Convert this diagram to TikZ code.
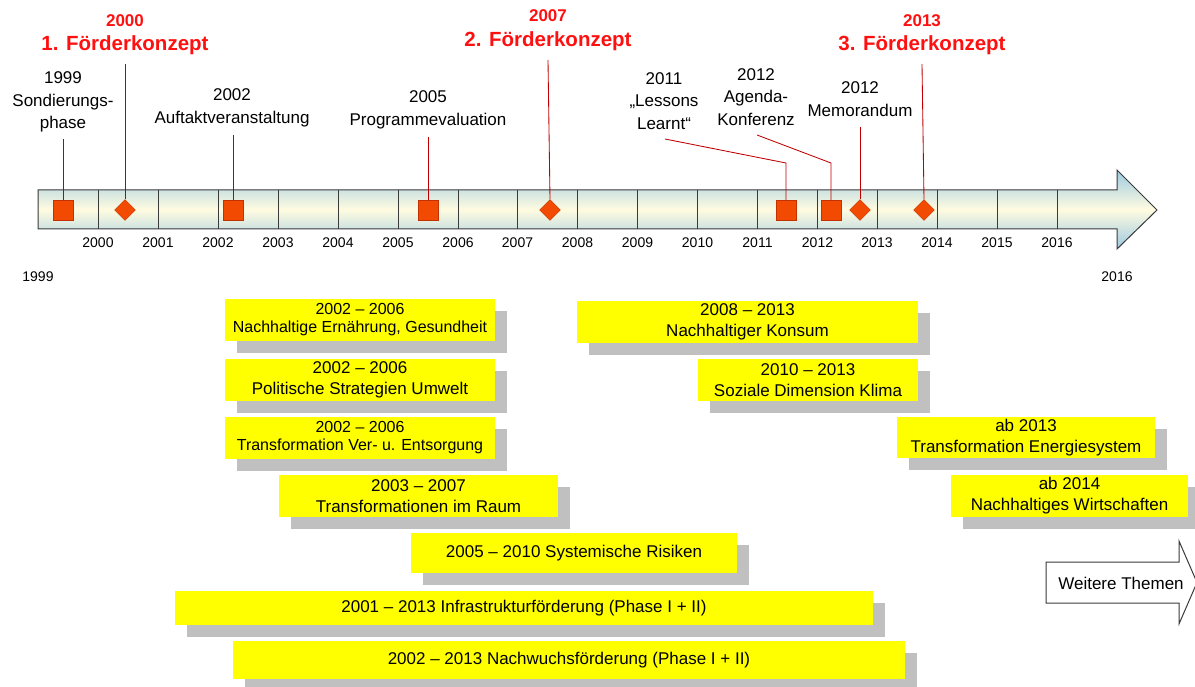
\documentclass[tikz,border=0pt]{standalone}
\usepackage{fontspec}
\setmainfont{Liberation Sans}
\usepackage{xcolor}
\usepackage{tikz}
\usetikzlibrary{shapes.geometric}
\usetikzlibrary{shadows}
\usetikzlibrary{positioning, calc}

\definecolor{markred}{HTML}{F24A00}
\definecolor{markedge}{HTML}{C23200}
\definecolor{leaderred}{HTML}{C00000}
\definecolor{konzeptred}{HTML}{FF1010}
\definecolor{barblue}{HTML}{9CCAE2}
\definecolor{barcream}{HTML}{FFFBE0}
\definecolor{themeyellow}{HTML}{FFFF00}
\definecolor{shadowgray}{HTML}{C0C0C0}
\definecolor{axisgray}{HTML}{3A3A3A}

\begin{document}
\begin{tikzpicture}[x=1pt, y=-1pt,
    eventsq/.style={rectangle, draw=markedge, fill=markred, minimum size=20pt, inner sep=0pt},
    konzeptdia/.style={diamond, draw=markedge, fill=markred, minimum size=21pt, inner sep=0pt},
    leader/.style={draw=leaderred, line width=0.85pt},
    event/.style={align=center, inner sep=0pt, font=\fontsize{17}{22.5}\selectfont},
    konzept/.style={text=konzeptred, inner sep=0pt, font=\bfseries\fontsize{20.5}{24}\selectfont},
    konzeptyear/.style={text=konzeptred, inner sep=0pt, font=\bfseries\fontsize{17}{20}\selectfont},
    yearlbl/.style={inner sep=0pt, font=\fontsize{14}{16}\selectfont},
    yearline/.style={draw=axisgray, line width=1pt},
    theme/.style={fill=themeyellow, align=center, inner sep=0pt, font=\fontsize{17}{21}\selectfont,
        general shadow={fill=shadowgray, shadow xshift=12pt, shadow yshift=-12pt}},
    themesmall/.style={font=\fontsize{16}{18}\selectfont}]
    \useasboundingbox (0,0) rectangle (1195,687);

    % timeline arrow
    \shadedraw[draw=axisgray, line width=1pt, top color=barblue, bottom color=barblue, middle color=barcream]
        (38,190) -- (1117,190) -- (1117,170) -- (1157,210) -- (1117,249) -- (1117,229) -- (38,229) -- cycle;

    \draw[yearline] (98,190) -- (98,229) node[yearlbl] (y00) at (98,243) {2000};
    \draw[yearline] (158,190) -- (158,229) node[yearlbl] (y01) at (158,243) {2001};
    \draw[yearline] (218,190) -- (218,229) node[yearlbl] (y02) at (218,243) {2002};
    \draw[yearline] (278,190) -- (278,229) node[yearlbl] (y03) at (278,243) {2003};
    \draw[yearline] (338,190) -- (338,229) node[yearlbl] (y04) at (338,243) {2004};
    \draw[yearline] (398,190) -- (398,229) node[yearlbl] (y05) at (398,243) {2005};
    \draw[yearline] (458,190) -- (458,229) node[yearlbl] (y06) at (458,243) {2006};
    \draw[yearline] (517.5,190) -- (517.5,229) node[yearlbl] (y07) at (517.5,243) {2007};
    \draw[yearline] (577.5,190) -- (577.5,229) node[yearlbl] (y08) at (577.5,243) {2008};
    \draw[yearline] (637.5,190) -- (637.5,229) node[yearlbl] (y09) at (637.5,243) {2009};
    \draw[yearline] (697.5,190) -- (697.5,229) node[yearlbl] (y10) at (697.5,243) {2010};
    \draw[yearline] (757.5,190) -- (757.5,229) node[yearlbl] (y11) at (757.5,243) {2011};
    \draw[yearline] (817.5,190) -- (817.5,229) node[yearlbl] (y12) at (817.5,243) {2012};
    \draw[yearline] (877,190) -- (877,229) node[yearlbl] (y13) at (877,243) {2013};
    \draw[yearline] (937,190) -- (937,229) node[yearlbl] (y14) at (937,243) {2014};
    \draw[yearline] (997,190) -- (997,229) node[yearlbl] (y15) at (997,243) {2015};
    \draw[yearline] (1057,190) -- (1057,229) node[yearlbl] (y16) at (1057,243) {2016};

    \node[yearlbl] (start) at (38,277) {1999};
    \node[yearlbl] (end) at (1117,277) {2016};

    % markers on the timeline
    \node[eventsq] (m99) at (63,210) {};
    \node[konzeptdia] (d00) at (125,210) {};
    \node[eventsq] (m02) at (233,210) {};
    \node[eventsq] (m05) at (428,210) {};
    \node[konzeptdia] (d07) at (550,210) {};
    \node[eventsq] (m11) at (786,210) {};
    \node[eventsq] (m12) at (831,210) {};
    \node[konzeptdia] (d12) at (860,210) {};
    \node[konzeptdia] (d13) at (924,210) {};

    % event labels
    \node[event] (sondierung) at (63,102) {1999\\Sondierungs-\\phase};
    \node[event] (auftakt) at (232,108) {2002\\Auftaktveranstaltung};
    \node[event] (evaluation) at (428,110) {2005\\Programmevaluation};
    \node[event] (lessons) at (664,101) {2011\\„Lessons\\Learnt“};
    \node[event] (agenda) at (756,97) {2012\\Agenda-\\Konferenz};
    \node[event] (memorandum) at (860,99) {2012\\Memorandum};

    \node[konzeptyear] (fk1year) at (125,21) {2000};
    \node[konzept] (fk1) at (125,45) {1. Förderkonzept};
    \node[konzeptyear] (fk2year) at (548,16) {2007};
    \node[konzept] (fk2) at (548,41) {2. Förderkonzept};
    \node[konzeptyear] (fk3year) at (922,21) {2013};
    \node[konzept] (fk3) at (922,45) {3. Förderkonzept};

    % leader lines
    \coordinate (sondierungend) at (63,139);
    \coordinate (fk1end) at (125,64);
    \coordinate (auftaktend) at (233,135);
    \coordinate (evaluationend) at (428,137);
    \coordinate (fk2end) at (548,60);
    \coordinate (lessonsend) at (665,139);
    \coordinate (lessonsknee) at (786,163);
    \coordinate (agendaend) at (757,135);
    \coordinate (agendaknee) at (831,163);
    \coordinate (memorandumend) at (860,127);
    \coordinate (fk3end) at (922,64);

    \draw[leader] (sondierungend) -- (m99.north);
    \draw[leader] (fk1end) -- (d00.north);
    \draw[leader] (auftaktend) -- (m02.north);
    \draw[leader] (evaluationend) -- (m05.north);
    \draw[leader] (fk2end) -- (d07.north);
    \draw[leader] (lessonsend) -- (lessonsknee) -- (m11.north);
    \draw[leader] (agendaend) -- (agendaknee) -- (m12.north);
    \draw[leader] (memorandumend) -- (d12.north);
    \draw[leader] (fk3end) -- (d13.north);

    % themes
    \node[theme, themesmall, minimum width=270pt, minimum height=42pt] (ernaehrung) at (360,320) {2002 – 2006\\Nachhaltige Ernährung, Gesundheit};
    \node[theme, minimum width=270pt, minimum height=42pt] (politik) at (360,380) {2002 – 2006\\Politische Strategien Umwelt};
    \node[theme, themesmall, minimum width=270pt, minimum height=42pt] (entsorgung) at (360,438) {2002 – 2006\\Transformation Ver- u. Entsorgung};
    \node[theme, minimum width=279pt, minimum height=42pt] (raum) at (418.5,496) {2003 – 2007\\Transformationen im Raum};
    \node[theme, minimum width=326pt, minimum height=40pt] (risiken) at (574,553) {2005 – 2010 Systemische Risiken};
    \node[theme, minimum width=698pt, minimum height=34pt] (infrastruktur) at (524,608) {2001 – 2013 Infrastrukturförderung (Phase I + II)};
    \node[theme, minimum width=672pt, minimum height=38pt] (nachwuchs) at (569,660) {2002 – 2013 Nachwuchsförderung (Phase I + II)};

    \node[theme, minimum width=341pt, minimum height=42pt] (konsum) at (747.5,322) {2008 – 2013\\Nachhaltiger Konsum};
    \node[theme, minimum width=220pt, minimum height=42pt] (klima) at (808,380) {2010 – 2013\\Soziale Dimension Klima};
    \node[theme, minimum width=258pt, minimum height=41pt] (energie) at (1026,437.5) {ab 2013\\Transformation Energiesystem};
    \node[theme, minimum width=237pt, minimum height=42pt] (wirtschaften) at (1069.5,496) {ab 2014\\Nachhaltiges Wirtschaften};

    % further topics
    \draw[draw=axisgray, fill=white, line width=1pt]
        (1046,562) -- (1179,562) -- (1179,541) -- (1197,582.5) -- (1179,624) -- (1179,603) -- (1046,603) -- cycle;
    \node[event] (weitere) at (1121,583) {Weitere Themen};

\end{tikzpicture}
\end{document}
